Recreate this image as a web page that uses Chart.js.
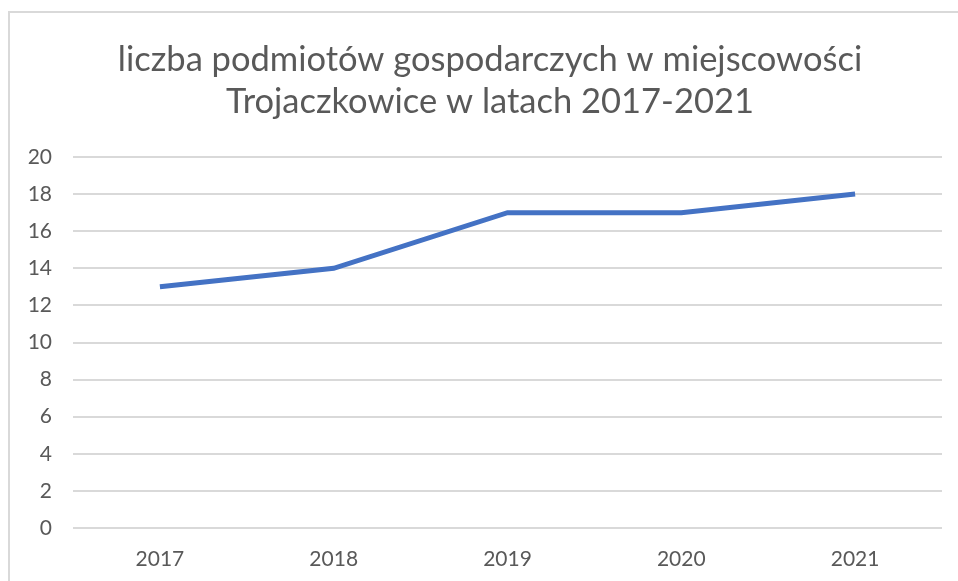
<!DOCTYPE html>
<html>
<head>
<meta charset="utf-8">
<script src="https://cdn.jsdelivr.net/npm/chart.js@4"></script>
<style>
  html, body { margin: 0; padding: 0; background: #fff; }
  #frame { position: absolute; left: 8px; top: 11px; width: 960px; height: 580px; border: 2px solid #d9d9d9; }
  #wrap { position: absolute; left: 0; top: 0; width: 958px; height: 581px; }
</style>
</head>
<body>
<div id="frame"></div>
<div id="wrap"><canvas id="chart"></canvas></div>
<script>
const years = ['2017', '2018', '2019', '2020', '2021'];
const companies = [13, 14, 17, 17, 18];
const titleLines = ['liczba podmiotów gospodarczych w miejscowości', 'Trojaczkowice w latach 2017-2021'];

const grey = '#595959';

// title is centred on the whole frame, not on the plot, so draw it here
const frameTitle = {
  id: 'frameTitle',
  afterDraw(chart) {
    const ctx = chart.ctx;
    ctx.save();
    ctx.fillStyle = grey;
    ctx.font = '34.5px Lato';
    ctx.textAlign = 'center';
    ctx.textBaseline = 'middle';
    titleLines.forEach((t, i) => ctx.fillText(t, 490, 60 + i * 42));
    ctx.restore();
  }
};

new Chart(document.getElementById('chart'), {
  type: 'line',
  data: {
    labels: years,
    datasets: [{
      label: 'liczba podmiotów',
      data: companies,
      borderColor: '#4472C4',
      borderWidth: 5,
      pointRadius: 0,
      fill: false,
      tension: 0
    }]
  },
  options: {
    responsive: true,
    maintainAspectRatio: false,
    animation: false,
    layout: { padding: { left: 0, right: 16, top: 157, bottom: 0 } },
    plugins: {
      legend: { display: false },
      tooltip: { enabled: false },
      title: { display: false }
    },
    scales: {
      x: {
        offset: true,
        grid: { display: false },
        border: { display: false },
        ticks: { color: grey, font: { family: 'Lato', size: 21 }, padding: 11 },
        afterFit: s => { s.height = 53; }
      },
      y: {
        min: 0,
        max: 20,
        grid: { color: '#d9d9d9', lineWidth: 2, drawTicks: false },
        border: { display: false },
        ticks: { stepSize: 2, color: grey, font: { family: 'Lato', size: 21 }, padding: 21 },
        afterFit: s => { s.width = 73; }
      }
    }
  },
  plugins: [frameTitle]
});
</script>
</body>
</html>
